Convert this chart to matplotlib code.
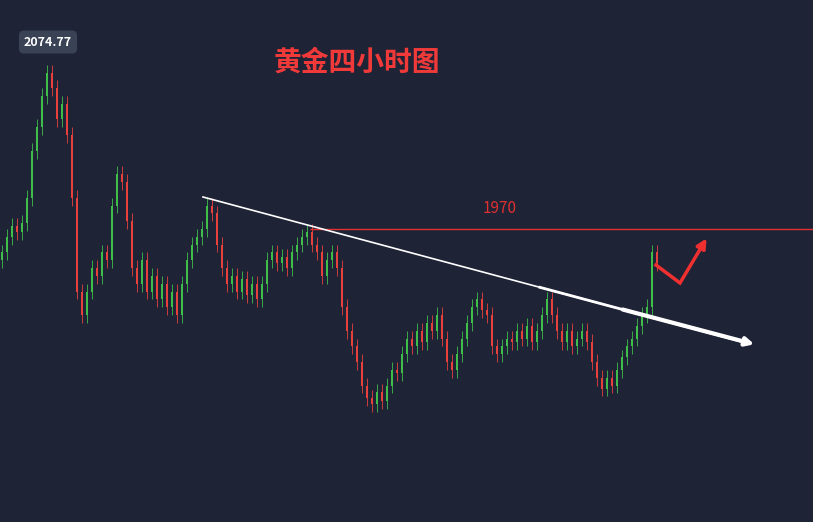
import matplotlib
matplotlib.use("Agg")
import matplotlib.pyplot as plt
import numpy as np

plt.rcParams['font.family'] = ['Noto Sans CJK SC', 'DejaVu Sans']

closes = [1955,1965,1972,1968,1974,1990,2020,2035,2055,2070,2060,2040,2050,2030,1990,1930,1915,1930,1945,1940,
          1955,1950,1985,2005,2000,1975,1945,1935,1950,1930,1940,1925,1935,1920,1930,1915,1935,1950,1960,1965,
          1970,1985,1980,1960,1945,1935,1940,1930,1938,1928,1935,1925,1935,1950,1955,1948,1952,1945,1955,1960,
          1965,1968,1960,1955,1940,1950,1955,1945,1920,1905,1895,1885,1870,1862,1858,1866,1860,1870,1880,1878,
          1890,1900,1895,1905,1898,1910,1905,1915,1900,1885,1880,1890,1900,1910,1920,1925,1918,1915,1895,1890,
          1895,1900,1898,1905,1900,1908,1898,1905,1915,1925,1915,1905,1898,1905,1895,1900,1905,1898,1885,1875,
          1868,1875,1870,1880,1888,1895,1900,1908,1915,1920,1955,1948]
first_open = 1950
wick = 5
peak_label = "2074.77"
level = 1970
title = "黄金四小时图"

W, H = 813, 522
bg = '#1e2336'
fig = plt.figure(figsize=(W/100, H/100), dpi=100, facecolor=bg)
ax = fig.add_axes([0, 0, 1, 1], facecolor=bg)
ppu = 1.565
ax.set_xlim(0, W)
ax.set_ylim(1970 - (H - 229) / ppu, 1970 + 229 / ppu)
ax.axis('off')

opens = [first_open] + closes[:-1]
for i, (o, c) in enumerate(zip(opens, closes)):
    x = 5 * i + 2
    col = '#3fbf4a' if c >= o else '#e8413c'
    ax.vlines(x, min(o, c) - wick, max(o, c) + wick, color=col, lw=0.6)
    ax.bar(x, max(abs(c - o), 0.8), bottom=min(o, c), width=2.2, color=col, lw=0)

ax.hlines(level, 310, W, color='#e03030', lw=1)
ax.text(500, level + 10, str(level), color='#e03030', fontsize=11, ha='center')

p1 = 1970 + (229 - 197) / ppu
p2 = 1970 + (229 - 345) / ppu
ax.plot([203, 740], [p1, p1 + (p2 - p1) * (537 / 552)], color='white', lw=1.2)
ax.plot([540, 740], [p1 + (p2 - p1) * (337 / 552), p1 + (p2 - p1) * (537 / 552)], color='white', lw=2)
ax.annotate('', xy=(757, p2), xytext=(620, p1 + (p2 - p1) * (417 / 552)),
            arrowprops=dict(arrowstyle='-|>', color='white', lw=3, mutation_scale=12))

pa = 1970 + (229 - 265) / ppu
pb = 1970 + (229 - 283) / ppu
pc = 1970 + (229 - 236) / ppu
ax.plot([656, 680], [pa, pb], color='#f03030', lw=2.5)
ax.annotate('', xy=(708, pc), xytext=(680, pb),
            arrowprops=dict(arrowstyle='-|>', color='#f03030', lw=2.5, mutation_scale=14))

ax.text(357, 1970 + (229 - 63) / ppu, title, color='#f03a3a', fontsize=20, ha='center', va='center',
        fontweight='bold')
ax.text(48, 1970 + (229 - 42) / ppu, peak_label, color='white', fontsize=9, ha='center', va='center',
        fontweight='bold', bbox=dict(boxstyle='round,pad=0.4', fc='#3a4256', ec='none'))

fig.savefig('out.png', dpi=100, facecolor=bg)
